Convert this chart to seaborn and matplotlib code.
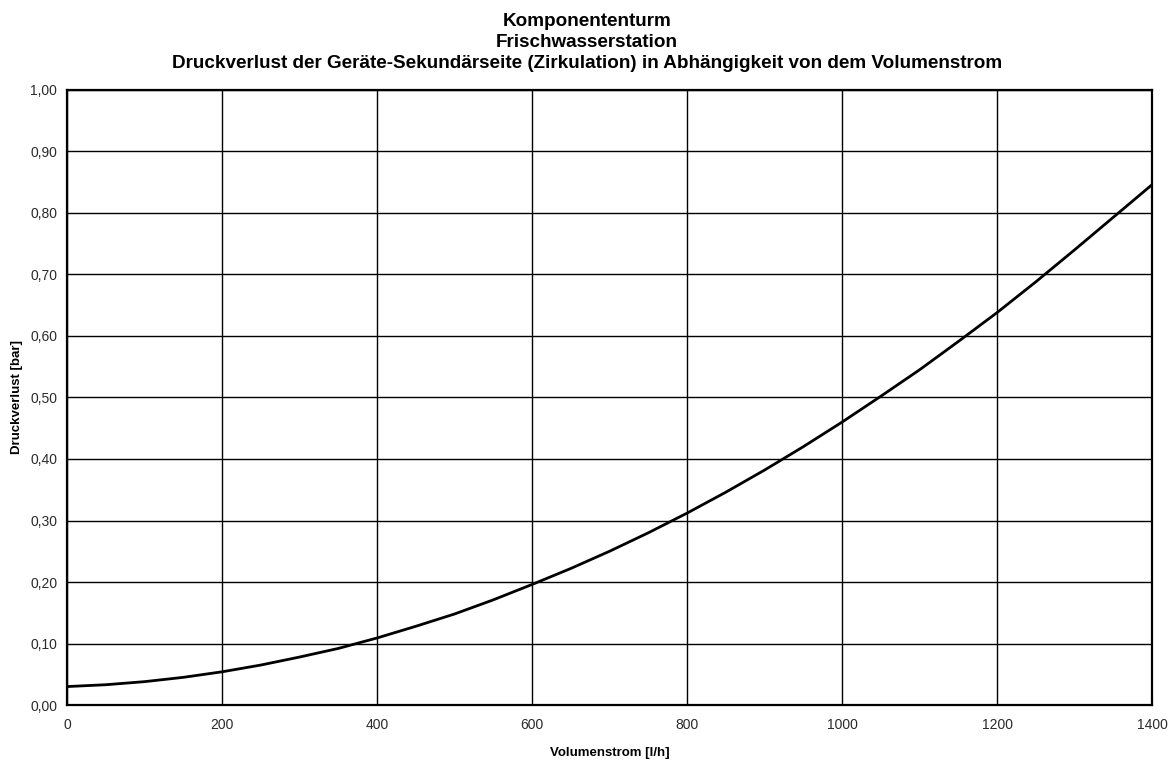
import matplotlib
matplotlib.use("Agg")
import matplotlib.pyplot as plt
import seaborn as sns
import pandas as pd
from matplotlib.ticker import FuncFormatter, MultipleLocator

# Volumenstrom [l/h] und zugehöriger Druckverlust [bar]
volumenstrom = [0, 50, 100, 150, 200, 250, 300, 350, 400, 450, 500, 550, 600, 650, 700,
                750, 800, 850, 900, 950, 1000, 1050, 1100, 1150, 1200, 1250, 1300, 1350, 1400]
druckverlust = [0.030, 0.033, 0.038, 0.045, 0.054, 0.065, 0.078, 0.092, 0.109, 0.128,
                0.148, 0.171, 0.196, 0.222, 0.250, 0.280, 0.312, 0.346, 0.382, 0.420,
                0.460, 0.502, 0.545, 0.591, 0.638, 0.688, 0.740, 0.793, 0.846]

titel = ["Komponententurm",
         "Frischwasserstation",
         "Druckverlust der Geräte-Sekundärseite (Zirkulation) in Abhängigkeit von dem Volumenstrom"]
x_label = "Volumenstrom [l/h]"
y_label = "Druckverlust [bar]"

sns.set_style("white")
plt.rcParams["font.family"] = ["Liberation Sans", "DejaVu Sans"]
plt.rcParams["text.color"] = "black"
plt.rcParams["axes.labelcolor"] = "black"

df = pd.DataFrame({"q": volumenstrom, "dp": druckverlust})

fig = plt.figure(figsize=(11.74, 7.65), dpi=100)
ax = fig.add_axes([0.0571, 0.0784, 0.9242, 0.8040])

sns.lineplot(data=df, x="q", y="dp", ax=ax, color="black", linewidth=2.0)

ax.set_xlim(0, 1400)
ax.set_ylim(0, 1.0)
ax.xaxis.set_major_locator(MultipleLocator(200))
ax.yaxis.set_major_locator(MultipleLocator(0.1))
ax.yaxis.set_major_formatter(FuncFormatter(lambda v, _: f"{v:.2f}".replace(".", ",")))

ax.grid(True, color="black", linewidth=1.0)
for s in ax.spines.values():
    s.set_color("black")
    s.set_linewidth(1.6)

ax.tick_params(axis="both", direction="out", length=5, width=1.2, color="black",
               labelsize=10, labelcolor="#2a2a2a", pad=2)
ax.tick_params(axis="x", pad=4)

ax.set_xlabel(x_label, fontsize=9.5, fontweight="bold", labelpad=11)
ax.set_ylabel(y_label, fontsize=9.5, fontweight="bold", labelpad=5)

fig.text(0.5, 0.983, "\n".join(titel), ha="center", va="top",
         fontsize=13.6, fontweight="bold", linespacing=1.32)

fig.savefig("out.png", dpi=100, facecolor="white")
